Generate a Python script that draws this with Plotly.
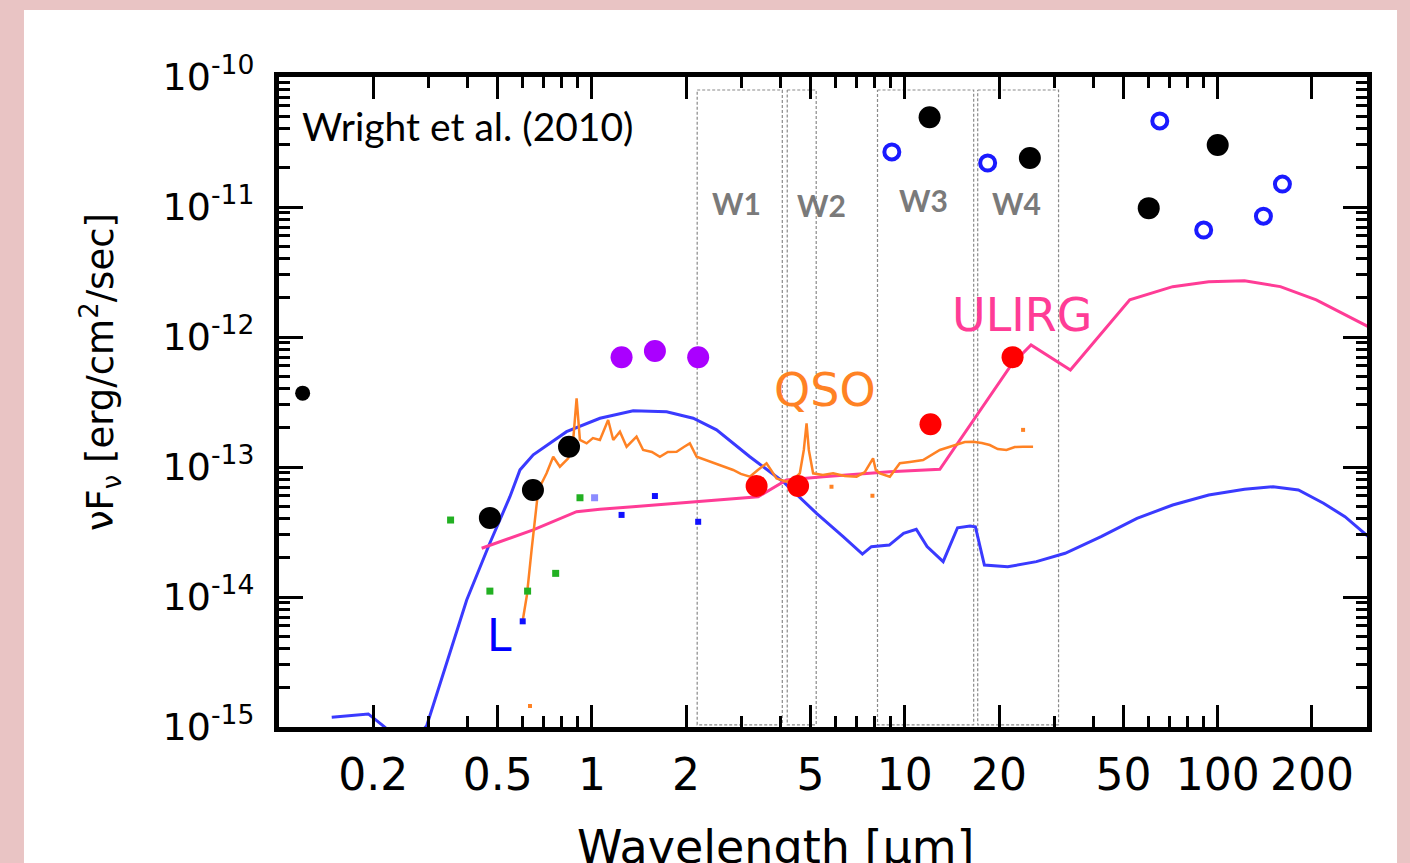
import math
import plotly.graph_objects as go

# ---------------- data (wavelength in micron, nuFnu in erg/cm2/s) ----------------
black_wl = [0.472, 0.648, 0.845, 12.0, 25.1, 60.2, 100.0]
black_f = [4.06e-14, 6.65e-14, 1.43e-13, 4.9e-11, 2.38e-11, 9.8e-12, 3.0e-11]
black_small_wl = [0.119]
black_small_f = [3.7e-13]

blue_open_wl = [9.09, 18.4, 65.3, 90.2, 140.0, 161.0]
blue_open_f = [2.65e-11, 2.18e-11, 4.59e-11, 6.65e-12, 8.5e-12, 1.5e-11]

purple_wl = [1.244, 1.59, 2.186]
purple_f = [6.98e-13, 7.8e-13, 6.98e-13]

red_wl = [3.36, 4.56, 12.08, 22.1]
red_f = [7.15e-14, 7.15e-14, 2.13e-13, 7.0e-13]

green_wl = [0.3535, 0.472, 0.623, 0.766, 0.916]
green_f = [3.91e-14, 1.11e-14, 1.11e-14, 1.52e-14, 5.8e-14]

lightblue_wl = [1.02]
lightblue_f = [5.8e-14]

bluesq_wl = [0.601, 1.244, 1.59, 2.186]
bluesq_f = [6.5e-15, 4.28e-14, 5.98e-14, 3.79e-14]

orange_dot_wl = [0.634, 5.83, 7.88, 23.88]
orange_dot_f = [1.45e-15, 7.05e-14, 6.01e-14, 1.93e-13]

# L dwarf model (blue curve)
L_wl = [0.1474, 0.1929, 0.2154, 0.2435, 0.262, 0.2963, 0.398, 0.472, 0.547, 0.589,
        0.6494, 0.830, 1.061, 1.355, 1.733, 2.107, 2.502, 3.197, 4.085, 5.224,
        6.353, 7.32, 7.82, 8.92, 9.91, 10.88, 11.78, 13.26, 14.74, 16.16,
        16.81, 17.96, 21.33, 26.33, 32.54, 42.39, 55.2, 71.8, 93.6, 121.8,
        150.4, 181.1, 217.8, 255.1, 303.0]
L_f = [1.19e-15, 1.26e-15, 1.02e-15, 7.9e-16, 7.3e-16, 1.02e-15, 9.48e-15, 2.6e-14, 5.91e-14, 9.5e-14,
       1.24e-13, 1.87e-13, 2.37e-13, 2.71e-13, 2.66e-13, 2.37e-13, 1.93e-13, 1.2e-13, 7.71e-14, 4.4e-14,
       2.91e-14, 2.14e-14, 2.44e-14, 2.51e-14, 3.09e-14, 3.32e-14, 2.44e-14, 1.87e-14, 3.41e-14, 3.52e-14,
       3.47e-14, 1.76e-14, 1.71e-14, 1.87e-14, 2.17e-14, 2.91e-14, 4.03e-14, 5.1e-14, 6.09e-14, 6.74e-14,
       7.05e-14, 6.65e-14, 5.26e-14, 4.15e-14, 2.91e-14]

# ULIRG model (pink curve)
ulirg_wl = [0.4443, 0.5083, 0.6494, 0.8934, 1.061, 1.352, 2.213, 3.399, 4.188, 5.483,
            8.95, 12.94, 21.89, 25.32, 33.83, 52.35, 71.8, 93.6, 121.8, 158.6, 206.5, 303.0]
ulirg_f = [2.37e-14, 2.66e-14, 3.28e-14, 4.53e-14, 4.73e-14, 4.95e-14, 5.41e-14, 5.91e-14, 7.94e-14, 8.42e-14,
           9.2e-14, 9.6e-14, 6.09e-13, 8.68e-13, 5.57e-13, 1.93e-12, 2.44e-12, 2.66e-12, 2.71e-12, 2.44e-12,
           1.93e-12, 1.2e-12]

# QSO template (orange spectrum)
qso_wl = [0.6007, 0.620, 0.6416, 0.6737, 0.7164, 0.7522, 0.7901, 0.840, 0.8714, 0.8935,
          0.9155, 0.9618, 1.0074, 1.0606, 1.127, 1.170, 1.229, 1.291, 1.389, 1.458,
          1.555, 1.649, 1.749, 1.865, 1.967, 2.056, 2.161, 2.313, 2.502, 2.660,
          2.828, 2.992, 3.197, 3.391, 3.615, 3.892, 4.188, 4.453, 4.618, 4.756,
          4.853, 4.935, 5.093, 5.470, 5.901, 6.432, 7.012, 7.451, 7.917, 8.076,
          8.321, 8.957, 9.639, 10.37, 11.44, 12.94, 14.63, 15.55, 16.53, 17.62,
          18.69, 19.82, 21.13, 22.46, 23.88, 25.7]
qso_f = [6.54e-15, 1.036e-14, 2.30e-14, 6.65e-14, 8.94e-14, 1.20e-13, 1.005e-13, 1.167e-13, 1.614e-13, 3.37e-13,
         1.614e-13, 1.52e-13, 1.67e-13, 1.614e-13, 2.30e-13, 1.614e-13, 1.868e-13, 1.432e-13, 1.71e-13, 1.352e-13,
         1.304e-13, 1.20e-13, 1.304e-13, 1.311e-13, 1.425e-13, 1.52e-13, 1.20e-13, 1.132e-13, 1.068e-13, 1.0e-13,
         9.48e-14, 8.84e-14, 8.42e-14, 9.48e-14, 1.068e-13, 8.18e-14, 7.71e-14, 8.23e-14, 8.94e-14, 1.352e-13,
         2.17e-13, 1.352e-13, 8.94e-14, 8.68e-14, 8.94e-14, 8.53e-14, 8.42e-14, 9.15e-14, 1.167e-13, 9.48e-14,
         8.94e-14, 8.42e-14, 1.068e-13, 1.093e-13, 1.132e-13, 1.352e-13, 1.476e-13, 1.557e-13, 1.565e-13, 1.53e-13,
         1.476e-13, 1.375e-13, 1.352e-13, 1.425e-13, 1.432e-13, 1.432e-13]

# WISE bands
band_names = ["W1", "W2", "W3", "W4"]
band_lo = [2.17, 4.21, 8.18, 17.1]
band_hi = [4.06, 5.21, 16.6, 31.0]
band_top = 7.94e-11
band_bottom = 1.04e-15
band_label_wl = [2.90, 5.42, 11.44, 22.75]
band_label_f = [1.07e-11, 1.04e-11, 1.13e-11, 1.07e-11]

x_tickvals = [0.2, 0.5, 1, 2, 5, 10, 20, 50, 100, 200]
x_ticktext = ["0.2", "0.5", "1", "2", "5", "10", "20", "50", "100", "200"]
y_tickvals = [1e-15, 1e-14, 1e-13, 1e-12, 1e-11, 1e-10]
y_ticktext = ["10<sup>-15</sup>", "10<sup>-14</sup>", "10<sup>-13</sup>",
              "10<sup>-12</sup>", "10<sup>-11</sup>", "10<sup>-10</sup>"]

# ---------------- figure ----------------
BLUE = "#3a3aff"
PINK = "#ff3c96"
ORANGE = "#ff8224"

fig = go.Figure()

for lo, hi in zip(band_lo, band_hi):
    fig.add_trace(go.Scatter(x=[lo, hi, hi, lo, lo],
                             y=[band_top, band_top, band_bottom, band_bottom, band_top],
                             mode="lines", line=dict(color="#8a8a8a", width=1.2, dash="3px,2px"),
                             hoverinfo="skip"))

fig.add_trace(go.Scatter(x=L_wl, y=L_f, mode="lines", line=dict(color=BLUE, width=3)))
fig.add_trace(go.Scatter(x=ulirg_wl, y=ulirg_f, mode="lines", line=dict(color=PINK, width=3)))
fig.add_trace(go.Scatter(x=qso_wl, y=qso_f, mode="lines", line=dict(color=ORANGE, width=2.5)))
fig.add_trace(go.Scatter(x=orange_dot_wl, y=orange_dot_f, mode="markers",
                         marker=dict(color=ORANGE, size=4, symbol="square")))

fig.add_trace(go.Scatter(x=green_wl, y=green_f, mode="markers",
                         marker=dict(color="#22b022", size=7, symbol="square")))
fig.add_trace(go.Scatter(x=lightblue_wl, y=lightblue_f, mode="markers",
                         marker=dict(color="#8c8cff", size=7, symbol="square")))
fig.add_trace(go.Scatter(x=bluesq_wl, y=bluesq_f, mode="markers",
                         marker=dict(color="#1010ff", size=6, symbol="square")))

fig.add_trace(go.Scatter(x=purple_wl, y=purple_f, mode="markers",
                         marker=dict(color="#aa00ff", size=22)))
fig.add_trace(go.Scatter(x=red_wl, y=red_f, mode="markers",
                         marker=dict(color="#ff0000", size=22)))
fig.add_trace(go.Scatter(x=black_wl, y=black_f, mode="markers",
                         marker=dict(color="#000000", size=22)))
fig.add_trace(go.Scatter(x=black_small_wl, y=black_small_f, mode="markers",
                         marker=dict(color="#000000", size=15)))
fig.add_trace(go.Scatter(x=blue_open_wl, y=blue_open_f, mode="markers",
                         marker=dict(color="#1a1aff", size=15, symbol="circle-open",
                                     line=dict(width=4, color="#1a1aff"))))

ann = []
for name, wl, f in zip(band_names, band_label_wl, band_label_f):
    ann.append(dict(x=math.log10(wl), y=math.log10(f), xref="x", yref="y", text="<b>%s</b>" % name,
                    showarrow=False, font=dict(family="Lato", size=30, color="#7a7a7a")))

ann.append(dict(x=math.log10(23.65), y=math.log10(1.476e-12), xref="x", yref="y", text="ULIRG",
                showarrow=False, font=dict(family="DejaVu Sans", size=46, color=PINK)))
ann.append(dict(x=math.log10(5.553), y=math.log10(3.91e-13), xref="x", yref="y", text="QSO",
                showarrow=False, font=dict(family="DejaVu Sans", size=46, color=ORANGE)))
ann.append(dict(x=math.log10(0.508), y=math.log10(5.1e-15), xref="x", yref="y", text="L",
                showarrow=False, font=dict(family="DejaVu Sans", size=44, color="#0000ff")))
ann.append(dict(x=0.019, y=0.924, xref="paper", yref="paper", xanchor="left", yanchor="middle",
                text="Wright et al. (2010)", showarrow=False,
                font=dict(family="Lato", size=39, color="black")))
ann.append(dict(x=0.456, y=-0.185, xref="paper", yref="paper", xanchor="center", yanchor="middle",
                text="Wavelength [µm]", showarrow=False,
                font=dict(family="DejaVu Sans", size=46, color="black")))
ann.append(dict(x=-0.1645, y=0.546, xref="paper", yref="paper", xanchor="center", yanchor="middle",
                textangle=-90, text="νF<sub>ν</sub> [erg/cm<sup>2</sup>/sec]", showarrow=False,
                font=dict(family="DejaVu Sans", size=37, color="black")))

fig.update_layout(
    width=1410, height=863,
    margin=dict(l=279, r=43, t=77, b=136),
    paper_bgcolor="#e9c4c4",
    plot_bgcolor="white",
    showlegend=False,
    annotations=ann,
    shapes=[dict(type="rect", xref="paper", yref="paper", x0=-0.2344, x1=1.0276, y0=-0.2092, y1=1.1031,
                 fillcolor="white", line=dict(width=0), layer="below")],
)

fig.update_xaxes(type="log", range=[-1, math.log10(300)], showgrid=False, zeroline=False,
                 showline=True, linewidth=5, linecolor="black", mirror="allticks",
                 ticks="inside", ticklen=22, tickwidth=3, tickcolor="black",
                 tickmode="array", tickvals=x_tickvals, ticktext=x_ticktext,
                 tickfont=dict(family="DejaVu Sans", size=44, color="black"),
                 ticklabelstandoff=5,
                 minor=dict(ticks="inside", ticklen=11, tickwidth=3, tickcolor="black",
                            dtick="D1", showgrid=False))
fig.update_yaxes(type="log", range=[-15, -10], showgrid=False, zeroline=False,
                 showline=True, linewidth=5, linecolor="black", mirror="allticks",
                 ticks="inside", ticklen=24, tickwidth=3, tickcolor="black",
                 tickmode="array", tickvals=y_tickvals, ticktext=y_ticktext,
                 tickfont=dict(family="DejaVu Sans", size=38, color="black"),
                 ticklabelstandoff=12,
                 minor=dict(ticks="inside", ticklen=11, tickwidth=3, tickcolor="black",
                            dtick="D1", showgrid=False))

fig.write_html("out.html", config={"displayModeBar": False},
               post_script="document.body.style.margin='0px';document.body.style.overflow='hidden';")
